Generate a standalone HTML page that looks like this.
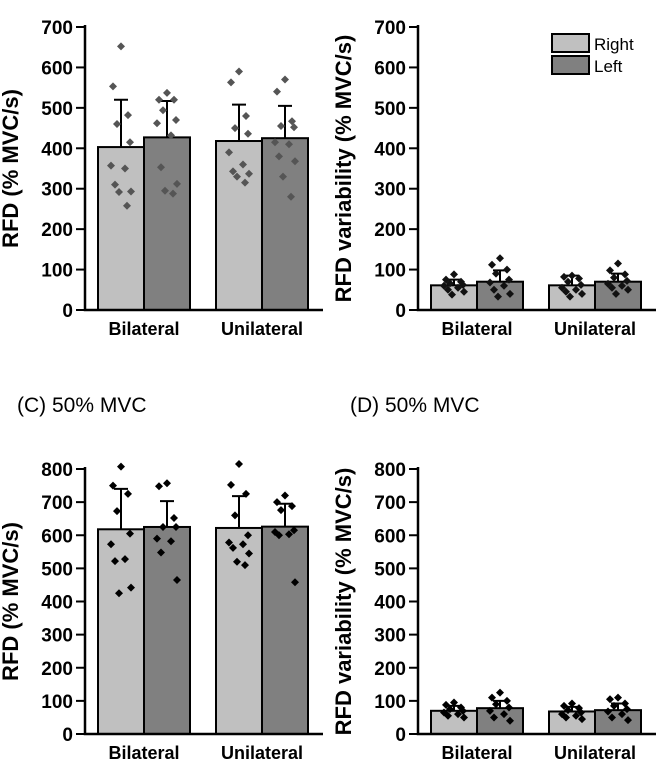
<!DOCTYPE html>
<html><head><meta charset="utf-8"><style>
body{margin:0;background:#fff;}
svg text{font-family:"Liberation Sans",Arial,sans-serif;}
</style></head><body>
<svg id="chart" width="659" height="761" viewBox="0 0 659 761" xmlns="http://www.w3.org/2000/svg"></svg>
<script>
const categories = ["Bilateral", "Unilateral"];
const series = ["Right", "Left"];
const aMeans = [403, 427, 418, 425];
const aErr = [520, 517, 508, 505];
const aPoints = [
  [652,553,482,460,415,357,350,310,293,292,258],
  [537,520,520,494,470,462,432,353,312,295,288],
  [590,563,480,450,436,390,360,343,337,330,315],
  [570,540,467,455,452,415,410,380,368,330,280]];
const bMeans = [61, 70, 61, 70];
const bErr = [75, 98, 85, 90];
const bPoints = [
  [88,75,70,66,62,60,55,50,45,38],
  [128,112,100,90,75,68,60,50,40,33],
  [85,82,78,70,62,55,50,45,40,33],
  [115,98,88,80,72,65,60,55,50,40]];
const cMeans = [618, 625, 622, 626];
const cErr = [740, 703, 718, 695];
const cPoints = [
  [807,750,725,673,605,573,528,522,442,425],
  [757,748,652,625,625,590,582,548,465],
  [815,752,725,660,600,578,573,562,545,520,510],
  [720,700,688,676,615,610,603,600,458]];
const dMeans = [70, 78, 68, 72];
const dErr = [85, 100, 82, 92];
const dPoints = [
  [95,88,80,75,70,65,60,55,50],
  [125,110,100,90,80,70,60,50,40],
  [92,85,78,72,65,60,55,50,45],
  [110,105,92,85,75,68,60,50,42]];
const jitter = [0,-8,7,-4,9,-10,4,-6,10,-2,6];

const svg = document.getElementById('chart');
const NS = 'http://www.w3.org/2000/svg';
function mk(tag, attrs, parent){const e=document.createElementNS(NS,tag);for(const k in attrs)e.setAttribute(k,attrs[k]);(parent||svg).appendChild(e);return e;}

function panel(id, ax, y0, yTop, maxV, step, means, errs, pts, ptColor, ylabel, title, titleY, legend){
  const g = mk('g',{});
  
  
  const yScale = v => y0 - (v/maxV)*(y0-yTop);
  const barX = [ax+13, ax+59, ax+131, ax+177];
  const bw = 46;
  means.forEach((m,i)=>{
    const top = yScale(m);
    const r = mk('rect',{x:barX[i],y:top,width:bw,height:y0-top,fill:i%2===0?'#c0c0c0':'#808080',stroke:'#000','stroke-width':2},g);
    
    
    const cx = barX[i]+bw/2, ey = yScale(errs[i]);
    const el = mk('path',{d:`M${cx},${top}V${ey}M${cx-7},${ey}H${cx+7}`,stroke:'#000','stroke-width':2,fill:'none'},g);
    
    
    pts[i].forEach((v,j)=>{
      const px = cx + jitter[j%jitter.length], py = yScale(v);
      const d = mk('path',{d:`M${px},${py-4}L${px+4},${py}L${px},${py+4}L${px-4},${py}Z`,fill:ptColor},g);
      
      
    });
  });
  const axes = mk('path',{d:`M${ax},${yTop-2}V${y0}H${ax+238}`,stroke:'#000','stroke-width':2.5,fill:'none'},g);
  
  
  for(let v=0; v<=maxV; v+=step){
    const y=yScale(v);
    mk('line',{x1:ax-9,x2:ax,y1:y,y2:y,stroke:'#000','stroke-width':2},g);
    const t = mk('text',{x:ax-12,y:y+7,'text-anchor':'end','font-size':19,'font-weight':'bold'},g);
    t.textContent = v;
    
    
  }
  categories.forEach((c,i)=>{
    const t = mk('text',{x:barX[i*2]+bw,y:y0+25,'text-anchor':'middle','font-size':18,'font-weight':'bold'},g);
    t.textContent = c;
    
    
  });
  const yl = mk('text',{x:0,y:0,transform:`translate(${ax-67},${(y0+yTop)/2}) rotate(-90)`,'text-anchor':'middle','font-size':22,'font-weight':'bold'},g);
  yl.textContent = ylabel;
  
  
  const tt = mk('text',{x:ax-68,y:titleY,'font-size':21},g);
  tt.textContent = title;
  
  
  if(legend){
    series.forEach((s,i)=>{
      const lr = mk('rect',{x:ax+134,y:34+i*22,width:37,height:18,fill:i===0?'#c0c0c0':'#808080',stroke:'#000','stroke-width':2},g);
      
      
      const lt = mk('text',{x:ax+176,y:50+i*22,'font-size':17},g);
      lt.textContent = s;
      
      
    });
  }
}
panel('a', 85, 310, 27, 700, 100, aMeans, aErr, aPoints, '#555', 'RFD (% MVC/s)', '(A) 20% MVC', -6, false);
panel('b', 418, 310, 27, 700, 100, bMeans, bErr, bPoints, '#111', 'RFD variability (% MVC/s)', '(B) 20% MVC', -6, true);
panel('c', 85, 734, 469, 800, 100, cMeans, cErr, cPoints, '#000', 'RFD (% MVC/s)', '(C) 50% MVC', 412, false);
panel('d', 418, 734, 469, 800, 100, dMeans, dErr, dPoints, '#000', 'RFD variability (% MVC/s)', '(D) 50% MVC', 412, false);
</script>
</body></html>
